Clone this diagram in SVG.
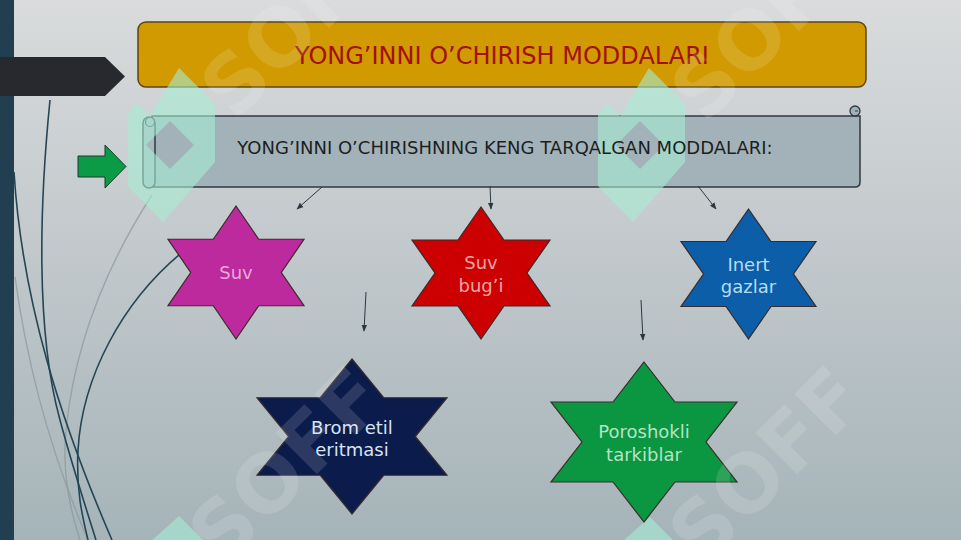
<svg xmlns="http://www.w3.org/2000/svg" width="961" height="540" viewBox="0 0 961 540">
<defs>
<linearGradient id="bg" x1="0" y1="0" x2="0" y2="1">
<stop offset="0" stop-color="#d9dbdc"/>
<stop offset="0.5" stop-color="#c0c7ca"/>
<stop offset="1" stop-color="#a5b4b9"/>
</linearGradient>
<marker id="ah" viewBox="0 0 10 10" refX="9" refY="5" markerWidth="7" markerHeight="7" orient="auto" markerUnits="userSpaceOnUse">
<path d="M0,1 L10,5 L0,9 Z" fill="#2b3840"/>
</marker>
<style>
.star{stroke:#3a2a2a;stroke-width:1.2;stroke-linejoin:miter}
.lbl{font-family:"DejaVu Sans","Noto Sans",sans-serif;font-size:18px;text-anchor:middle}
.conn{stroke:#2b3840;stroke-width:1;fill:none;marker-end:url(#ah)}
.curveD{fill:none;stroke:#254555;stroke-width:1.6}
.curveL{fill:none;stroke:#8a979c;stroke-width:1.4;opacity:0.7}
.logo{fill:#a6ecd4;fill-rule:evenodd;opacity:0.6}
.wm{font-family:"DejaVu Sans",sans-serif;font-weight:bold;font-size:80px;fill:#ffffff;opacity:0.13}
</style>
</defs>

<rect width="961" height="540" fill="url(#bg)"/>

<g id="decor">
<rect x="0" y="0" width="14" height="540" fill="#213f51"/>
<path class="curveL" d="M15,277 C25,350 45,440 88,540"/>
<path class="curveL" d="M152,195 C110,260 75,340 66,430 C62,470 70,510 80,540"/>
<path class="curveD" d="M14,172 C22,300 60,420 112,540"/>
<path class="curveD" d="M50,100 C40,200 35,330 60,420 C72,465 85,505 96,540"/>
<path class="curveD" d="M190,246 C120,300 82,380 78,450 C76,490 82,515 88,540"/>
<polygon points="0,57 105,57 125,76.5 105,96 0,96" fill="#27292e"/>
</g>

<g id="title">
<rect x="138" y="22" width="728" height="65" rx="8" fill="#d09a00" stroke="#5a4610" stroke-width="1.5"/>
</g>

<g id="arrow-green">
<polygon points="78,156 105,156 105,145 126,166.5 105,188 105,177 78,177" fill="#0b9a46" stroke="#1d3a2a" stroke-width="1"/>
</g>

<g id="scroll">
<path d="M152,116 L855,116 L860,116 L860,182 Q860,187 855,187 L152,187 Z" fill="#a3b2b9" stroke="#2e3a40" stroke-width="1.5"/>
<circle cx="855" cy="111" r="5" fill="#a3b2b9" stroke="#2e3a40" stroke-width="1.3"/>
<path d="M855,111 L858,111" stroke="#2e3a40" stroke-width="1"/>
<rect x="143" y="117" width="12" height="71" rx="6" fill="#a8b7bd" stroke="#2e3a40" stroke-width="1.5"/>
<circle cx="150" cy="122" r="4.5" fill="#a8b7bd" stroke="#2e3a40" stroke-width="1.2"/>
</g>

<g id="watermark">
<path class="logo" d="M179,68 L215,104 L215,162 L163,222 L128,186 L128,114 L137,103 L150,116 Z M146,145 L170,121 L194,145 L170,169 Z"/>
<path class="logo" d="M649,68 L685,104 L685,162 L633,222 L598,186 L598,114 L607,103 L620,116 Z M616,145 L640,121 L664,145 L640,169 Z"/>
<path class="logo" d="M179,516 L215,552 L215,610 L128,610 L128,562 L179,516 Z"/>
<path class="logo" d="M650,517 L686,553 L686,610 L598,610 L598,563 L650,517 Z"/>
</g>

<g id="title-text">
<text x="502" y="64" font-family="DejaVu Sans, sans-serif" font-size="24" fill="#a3100e" text-anchor="middle">YONG’INNI O’CHIRISH MODDALARI</text>
</g>
<g id="scroll-text">
<text x="505" y="154" font-family="DejaVu Sans, sans-serif" font-size="18" fill="#1b1f22" text-anchor="middle">YONG’INNI O’CHIRISHNING KENG TARQALGAN MODDALARI:</text>
</g>

<g id="connectors">
<line class="conn" x1="322" y1="187" x2="297" y2="209"/>
<line class="conn" x1="490" y1="186" x2="491" y2="209"/>
<line class="conn" x1="698" y1="186" x2="716" y2="209"/>
<line class="conn" x1="366" y1="292" x2="364" y2="331"/>
<line class="conn" x1="641" y1="300" x2="643" y2="340"/>
</g>

<g id="node-suv">
<polygon class="star" fill="#bd2a9e" points="236,206 258.7,239.25 304,239.25 281.3,272.5 304,305.75 258.7,305.75 236,339 213.3,305.75 168,305.75 190.7,272.5 168,239.25 213.3,239.25"/>
<text class="lbl" x="236" y="279" fill="#e8a8da">Suv</text>
</g>

<g id="node-suv-bugi">
<polygon class="star" fill="#cc0000" points="481,207 504,240 550,240 527,273 550,306 504,306 481,339 458,306 412,306 435,273 412,240 458,240"/>
<text class="lbl" x="481" y="269" fill="#eba4a4">Suv</text>
<text class="lbl" x="481" y="292" fill="#eba4a4">bug’i</text>
</g>

<g id="node-inert">
<polygon class="star" fill="#0b5ea7" points="748.5,209 771,241.5 816,241.5 793.5,274 816,306.5 771,306.5 748.5,339 726,306.5 681,306.5 703.5,274 681,241.5 726,241.5"/>
<text class="lbl" x="748.5" y="271" fill="#b6dcf2">Inert</text>
<text class="lbl" x="748.5" y="293" fill="#b6dcf2">gazlar</text>
</g>

<g id="node-brom">
<polygon class="star" fill="#0b1b4c" points="352,359 383.7,397.75 447,397.75 415.3,436.5 447,475.25 383.7,475.25 352,514 320.3,475.25 257,475.25 288.7,436.5 257,397.75 320.3,397.75"/>
<text class="lbl" x="352" y="434" fill="#d6e4f2">Brom etil</text>
<text class="lbl" x="352" y="456" fill="#d6e4f2">eritmasi</text>
</g>

<g id="node-poroshokli">
<polygon class="star" fill="#0b9641" points="644,362 675,402 737,402 706,442 737,482 675,482 644,522 613,482 551,482 582,442 551,402 613,402"/>
<text class="lbl" x="644" y="438" fill="#b4e4c4">Poroshokli</text>
<text class="lbl" x="644" y="461" fill="#b4e4c4">tarkiblar</text>
</g>

<g id="watermark-text">
<text class="wm" transform="translate(235,122) rotate(-45)">SOFF</text>
<text class="wm" transform="translate(705,125) rotate(-45)">SOFF</text>
<text class="wm" transform="translate(223,568) rotate(-45)">SOFF</text>
<text class="wm" transform="translate(703,568) rotate(-45)">SOFF</text>
</g>
</svg>
